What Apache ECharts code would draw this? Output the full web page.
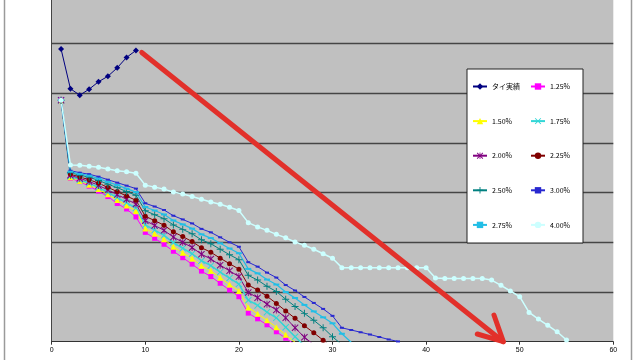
<!DOCTYPE html>
<html><head><meta charset="utf-8">
<script src="https://cdn.jsdelivr.net/npm/echarts@6/dist/echarts.min.js"></script>
<style>html,body{margin:0;padding:0;background:#fff}#c{width:640px;height:360px}</style>
</head><body><div id="c"></div>
<script>
// ---- data (x = 1, 2, 3, ... for each series) ----
const xTicks = [0, 10, 20, 30, 40, 50, 60];
const seriesNames = ['タイ実績','1.25%','1.50%','1.75%','2.00%','2.25%','2.50%','3.00%','2.75%','4.00%'];
const actual = [58.9,50.9,49.6,50.8,52.3,53.4,55.1,57.2,58.6];
const r125 = [48.6,32.9,32.2,31.3,30.3,29.2,27.8,26.7,25.1,22.0,20.8,19.6,18.2,16.9,15.6,14.2,13.1,11.75,10.4,9.05,5.75,4.6,3.4,2.0,0.7,-0.6];
const r150 = [48.6,33.1,32.35,31.6,30.7,29.65,28.5,27.4,26.3,22.8,21.7,20.6,19.1,17.9,16.75,15.3,14.25,12.9,11.5,10.2,6.9,5.6,4.3,2.9,1.4,-0.1];
const r175 = [48.6,33.3,32.55,31.9,31.0,30.05,29.0,27.95,26.9,23.5,22.45,21.4,19.95,18.8,17.7,16.3,15.3,14.0,12.8,11.6,8.35,7.3,5.95,4.8,2.9,1.0,-0.8];
const r200 = [48.6,33.5,32.85,32.25,31.45,30.55,29.6,28.65,27.7,24.35,23.4,22.4,21.05,20.0,18.95,17.6,16.65,15.4,14.25,13.1,9.9,8.85,7.55,6.4,4.8,2.8,0.9,-0.6];
const r225 = [48.6,33.7,33.15,32.6,31.9,31.05,30.2,29.3,28.45,25.25,24.35,23.45,22.1,21.15,20.15,18.9,18.0,16.8,15.7,14.6,11.4,10.4,9.15,7.7,6.2,4.7,3.2,1.8,0.3,-1.1];
const r250 = [48.6,34.0,33.5,33.1,32.45,31.7,31.0,30.2,29.45,26.35,25.55,24.75,23.5,22.6,21.7,20.5,19.7,18.6,17.5,16.5,13.35,12.4,11.15,10.1,8.55,7.1,5.7,4.3,2.8,1.0,-0.6];
const r300 = [48.6,34.4,34.0,33.7,33.2,32.6,32.0,31.4,30.8,27.85,27.2,26.5,25.35,24.6,23.8,22.7,22.0,21.0,20.0,19.1,16.0,15.1,13.9,12.9,11.4,10.3,9.0,7.8,6.6,5.2,2.8,2.35,1.9,1.45,0.95,0.45,0.05];
const r275 = [48.6,34.2,33.75,33.4,32.8,32.15,31.5,30.8,30.1,27.1,26.4,25.6,24.4,23.6,22.75,21.6,20.85,19.8,18.75,17.8,14.65,13.75,12.5,11.5,10.0,8.8,7.4,6.1,4.9,3.7,1.6,-0.1];
const r400 = [48.6,35.55,35.5,35.3,35.1,34.75,34.4,34.2,33.9,31.5,31.1,30.7,30.1,29.7,29.2,28.65,28.1,27.65,27.05,26.4,23.95,23.1,22.4,21.6,20.9,20.05,19.4,18.6,17.7,16.8,14.9,14.9,14.9,14.9,14.9,14.9,14.9,14.9,14.9,14.9,12.8,12.7,12.7,12.7,12.7,12.7,12.4,11.35,10.2,9.05,5.9,4.55,3.3,2.0,0.35];
const legendCol1 = ['タイ実績','1.50%','2.00%','2.50%','2.75%'];
const legendCol2 = ['1.25%','1.75%','2.25%','3.00%','4.00%'];
// red annotation arrow, in data units
const arrowShaft = [[9.62,58.2],[48.25,0]];
const arrowHead = [[45.47,1.55],[48.25,0],[47.25,5.37]];

// ---- styles ----
const X = 'path://M0,1L1,0L5,4L9,0L10,1L6,5L10,9L9,10L5,6L1,10L0,9L4,5Z';
const PLUS = 'path://M4.3,0H5.7V4.3H10V5.7H5.7V10H4.3V5.7H0V4.3H4.3Z';
const STAR = 'path://M0,1L1,0L4.4,3.4V0H5.6V3.4L9,0L10,1L6,5L10,9L9,10L5.6,6.6V10H4.4V6.6L1,10L0,9L4,5Z';
const styleOf = {
  'タイ実績': {color:'#000080', symbol:'diamond', size:6, w:1},
  '1.25%': {color:'#FF00FF', symbol:'rect', size:5, w:1},
  '1.50%': {color:'#FFFF00', symbol:'triangle', size:6, w:1},
  '1.75%': {color:'#33D6D6', symbol:X, size:7, w:1.5},
  '2.00%': {color:'#800080', symbol:STAR, size:7, w:1},
  '2.25%': {color:'#800000', symbol:'circle', size:5, w:1},
  '2.50%': {color:'#008080', symbol:PLUS, size:7, w:1},
  '3.00%': {color:'#2828D0', symbol:'rect', size:[4,2], w:1},
  '2.75%': {color:'#22BEE6', symbol:'rect', size:[6,2], w:1.2},
  '4.00%': {color:'#CCFFFF', symbol:'circle', size:5, w:1.5}
};
const dataOf = {'タイ実績':actual,'1.25%':r125,'1.50%':r150,'1.75%':r175,'2.00%':r200,'2.25%':r225,'2.50%':r250,'3.00%':r300,'2.75%':r275,'4.00%':r400};
const pairs = a => a.map((v,i)=>[i+1,v]);

const series = seriesNames.map(n => {
  const s = styleOf[n];
  return {
    name:n, type:'line', data:pairs(dataOf[n]),
    symbol:s.symbol, symbolSize:s.size, showSymbol:true,
    lineStyle:{color:s.color, width:s.w},
    itemStyle:{color:s.color, borderWidth:0},
    emphasis:{disabled:true}, z:2
  };
});
const arrowStyle = {type:'line', symbol:'none', clip:false, silent:true, z:10,
  lineStyle:{color:'#E2302A', width:5, cap:'round', join:'round'}, emphasis:{disabled:true}};
series.push(Object.assign({name:'arrowShaft', data:arrowShaft}, arrowStyle));
series.push(Object.assign({name:'arrowHead', data:arrowHead}, arrowStyle));

const legendBase = {
  orient:'vertical', top:82.5, itemWidth:14, itemHeight:8, itemGap:26.6, padding:0,
  selectedMode:false, textStyle:{fontSize:7, color:'#000', fontFamily:'Noto Sans CJK JP', lineHeight:8}
};

const chart = echarts.init(document.getElementById('c'), null, {renderer:'canvas'});
chart.setOption({
  animation:false,
  backgroundColor:'#ffffff',
  grid:{left:51.7, right:26.7, top:0, bottom:18.3, show:true, backgroundColor:'#C0C0C0', borderWidth:0, outerBoundsMode:'none', containLabel:false},
  xAxis:{type:'value', min:xTicks[0], max:xTicks[xTicks.length-1], interval:10,
    axisLine:{show:true, onZero:false, lineStyle:{color:'#333', width:1}},
    axisTick:{show:true, length:3, lineStyle:{color:'#333'}},
    axisLabel:{fontSize:7, color:'#000', margin:5, fontFamily:'Liberation Sans'},
    splitLine:{show:false}},
  yAxis:{type:'value', min:0, max:68.75, interval:10,
    axisLine:{show:true, lineStyle:{color:'#444', width:1}},
    axisTick:{show:false}, axisLabel:{show:false},
    splitLine:{show:true, showMinLine:false, showMaxLine:false, lineStyle:{color:'#454545', width:1.3}}},
  legend:[
    Object.assign({left:472, data:legendCol1}, legendBase),
    Object.assign({left:530, data:legendCol2}, legendBase)
  ],
  graphic:[
    {type:'rect', z:1, shape:{x:467, y:69, width:116, height:174}, style:{fill:'#ffffff', stroke:'#222', lineWidth:1}},
    {type:'line', z:1, shape:{x1:4.5, y1:0, x2:4.5, y2:360}, style:{stroke:'#9a9a9a', lineWidth:1.5}},
    {type:'line', z:1, shape:{x1:631.5, y1:0, x2:631.5, y2:360}, style:{stroke:'#9a9a9a', lineWidth:1.5}}
  ],
  series:series
});
</script></body></html>
